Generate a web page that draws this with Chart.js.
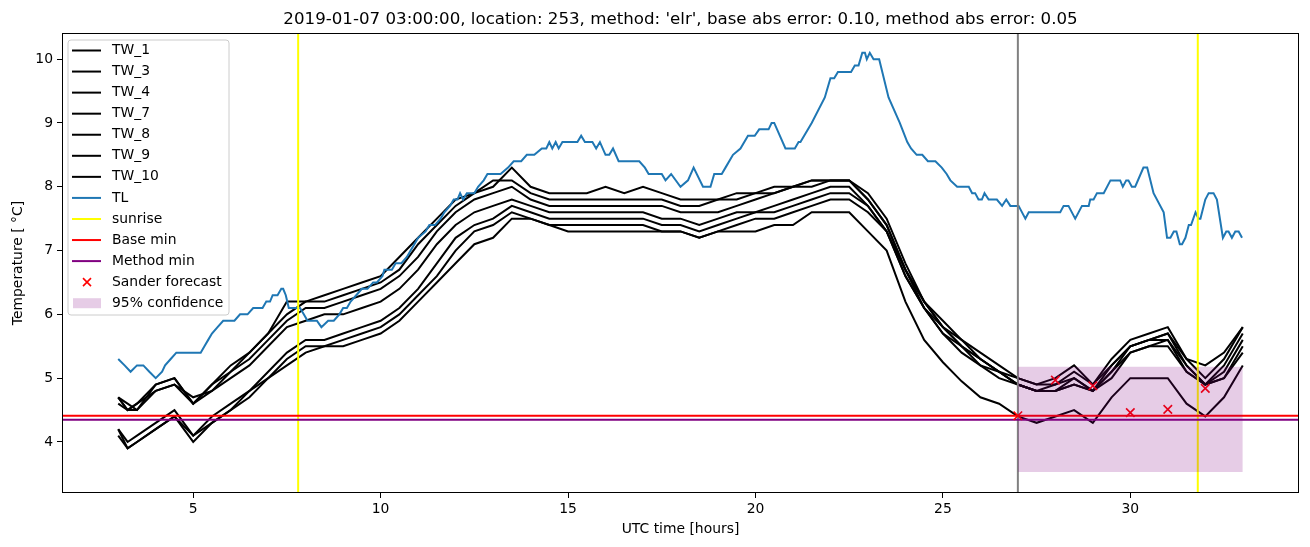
<!DOCTYPE html>
<html><head><meta charset="utf-8">
<script src="https://cdn.jsdelivr.net/npm/chart.js@4.4.1/dist/chart.umd.min.js"></script>
<style>html,body{margin:0;padding:0;background:#fff;overflow:hidden}canvas{display:block}</style>
</head><body>
<canvas id="c" width="1310" height="547"></canvas>
<script>
// ---------------- DATA ----------------
const hours = [3,3.25,3.5,4,4.5,5,5.5,6,6.5,7,7.5,8,8.5,9,9.5,10,10.5,11,11.5,12,12.5,13,13.5,14,14.5,15,15.5,16,16.5,17,17.5,18,18.5,19,19.5,20,20.5,21,21.5,22,22.5,23,23.5,24,24.5,25,25.5,26,26.5,27,27.5,28,28.5,29,29.5,30,30.5,31,31.5,32,32.5,33];
const TW_1 = [4.7,4.5,4.6,4.9,5.0,4.6,4.9,5.2,5.4,5.7,6.2, 6.2,6.3,6.4,6.5,6.6,6.9,7.2,7.5,7.8,7.9, 8.0,8.3,8.0,7.9,7.9,7.9,8.0,7.9,8.0,7.9, 7.8,7.8,7.8,7.9,7.9,7.9,8.0,8.1,8.1,8.1, 7.9,7.5,6.8,6.2,5.9,5.6,5.4,5.2,5.0,4.9, 5.0,5.2,4.9,5.3,5.6,5.7,5.8,5.3,5.2,5.4, 5.8];
const TW_3 = [4.7,4.5,4.5,4.9,5.0,4.6,4.9,5.1,5.4,5.7,6.0, 6.2,6.2,6.3,6.4,6.5,6.7,7.1,7.4,7.7,7.9, 8.1,8.1,7.9,7.8,7.8,7.8,7.8,7.8,7.8,7.8, 7.7,7.7,7.8,7.8,7.9,8.0,8.0,8.1,8.1,8.1, 7.8,7.4,6.7,6.2,5.8,5.6,5.3,5.1,5.0,4.9, 4.9,5.1,4.9,5.2,5.5,5.6,5.7,5.3,5.0,5.3, 5.8];
const TW_4 = [4.6,4.5,4.6,4.8,4.9,4.7,4.8,5.1,5.3,5.6,5.9, 6.1,6.1,6.2,6.3,6.4,6.6,6.9,7.3,7.6,7.8, 7.9,8.0,7.8,7.7,7.7,7.7,7.7,7.7,7.7,7.7, 7.6,7.6,7.6,7.7,7.8,7.9,8.0,8.0,8.1,8.1, 7.8,7.4,6.7,6.2,5.8,5.5,5.3,5.1,4.9,4.8, 4.9,5.0,4.8,5.2,5.5,5.6,5.7,5.2,4.9,5.2, 5.7];
const TW_7 = [4.7,4.6,4.5,4.8,4.9,4.6,4.8,5.0,5.2,5.5,5.8, 5.9,6.0,6.0,6.1,6.2,6.4,6.7,7.1,7.4,7.6, 7.7,7.8,7.7,7.6,7.6,7.6,7.6,7.6,7.6,7.5, 7.5,7.4,7.5,7.6,7.6,7.7,7.8,7.9,8.0,8.0, 7.7,7.3,6.7,6.1,5.8,5.5,5.3,5.1,4.9,4.8, 4.8,5.0,4.8,5.1,5.5,5.6,5.6,5.2,4.9,5.1, 5.6];
const TW_8 = [4.2,3.9,4.0,4.2,4.4,4.1,4.4,4.6,4.8,5.1,5.4, 5.6,5.6,5.7,5.8,5.9,6.1,6.4,6.8,7.2,7.4, 7.5,7.7,7.6,7.5,7.5,7.5,7.5,7.5,7.5,7.4, 7.4,7.3,7.4,7.5,7.6,7.6,7.7,7.8,7.9,7.9, 7.7,7.3,6.6,6.1,5.7,5.5,5.2,5.1,4.9,4.8, 4.8,4.9,4.8,5.1,5.4,5.5,5.6,5.1,4.9,5.0, 5.5];
const TW_9 = [4.1,3.9,4.0,4.2,4.4,4.0,4.3,4.5,4.8,5.0,5.3, 5.5,5.5,5.6,5.7,5.8,6.0,6.3,6.6,7.0,7.3, 7.4,7.6,7.5,7.4,7.4,7.4,7.4,7.4,7.4,7.3, 7.3,7.2,7.3,7.4,7.5,7.5,7.6,7.7,7.8,7.8, 7.6,7.3,6.6,6.1,5.7,5.4,5.2,5.0,4.9,4.8, 4.8,4.9,4.8,5.0,5.4,5.5,5.5,5.1,4.9,5.0, 5.4];
const TW_10 = [4.2,4.0,4.1,4.3,4.5,4.1,4.3,4.5,4.7,5.0,5.2, 5.4,5.5,5.5,5.6,5.7,5.9,6.2,6.5,6.8,7.1, 7.2,7.5,7.5,7.4,7.3,7.3,7.3,7.3,7.3,7.3, 7.3,7.2,7.3,7.3,7.3,7.4,7.4,7.6,7.6,7.6, 7.3,7.0,6.2,5.6,5.25,4.95,4.7,4.6,4.4,4.3, 4.4,4.5,4.3,4.7,5.0,5.0,5.0,4.6,4.4,4.7, 5.2];

const tlHours = [3.0,3.17,3.33,3.5,3.67,3.83,4.0,4.17,4.25,4.4,4.55,5.2,5.3,5.4,5.5,5.65,5.8,6.1,6.25,6.45,6.6,6.85,6.95,7.05,7.12,7.25,7.35,7.4,7.47,7.55,7.65,7.85,7.95,8.05,8.3,8.42,8.6,8.75,8.9,9.0,9.1,9.2,9.35,9.5,9.65,9.8,9.9,10.05,10.1,10.3,10.4,10.55,10.7,10.8,10.9,11.0,11.2,11.3,11.45,11.6,11.7,11.85,11.95,12.05,12.12,12.2,12.3,12.5,12.6,12.75,12.85,13.2,13.4,13.55,13.75,13.9,14.1,14.3,14.42,14.5,14.58,14.67,14.75,14.85,15.25,15.35,15.45,15.65,15.75,15.85,16.0,16.1,16.2,16.35,16.9,17.05,17.15,17.5,17.6,17.75,18.0,18.2,18.35,18.6,18.8,18.9,19.1,19.2,19.4,19.6,19.8,19.98,20.1,20.35,20.43,20.5,20.8,21.05,21.15,21.2,21.5,21.85,21.9,22.0,22.1,22.2,22.55,22.65,22.75,22.85,22.92,22.97,23.05,23.15,23.3,23.55,23.85,24.05,24.15,24.3,24.45,24.6,24.8,24.97,25.1,25.2,25.38,25.69,25.78,25.86,25.95,26.04,26.11,26.22,26.44,26.58,26.69,26.8,27.02,27.2,27.29,28.13,28.22,28.35,28.53,28.71,28.89,28.93,29.02,29.11,29.29,29.47,29.73,29.8,29.89,29.95,30.04,30.13,30.35,30.45,30.62,30.89,30.98,31.07,31.16,31.23,31.32,31.38,31.47,31.56,31.62,31.74,31.82,31.87,32.0,32.09,32.22,32.31,32.47,32.56,32.62,32.71,32.8,32.89,32.98];
const TL = [5.3,5.2,5.1,5.2,5.2,5.1,5.0,5.1,5.2,5.3,5.4,5.4,5.5,5.6,5.7,5.8,5.9,5.9,6.0,6.0,6.1,6.1,6.2,6.2,6.3,6.3,6.4,6.4,6.3,6.1,6.1,6.1,6.0,5.9,5.9,5.8,5.9,5.9,6.0,6.1,6.1,6.2,6.3,6.4,6.4,6.5,6.5,6.6,6.7,6.7,6.8,6.8,6.9,7.0,7.1,7.2,7.3,7.4,7.4,7.5,7.6,7.7,7.8,7.8,7.9,7.8,7.9,7.9,8.0,8.1,8.2,8.2,8.3,8.4,8.4,8.5,8.5,8.6,8.6,8.7,8.6,8.7,8.6,8.7,8.7,8.8,8.7,8.7,8.6,8.7,8.5,8.5,8.6,8.4,8.4,8.3,8.2,8.2,8.1,8.2,8.0,8.1,8.3,8.0,8.0,8.2,8.2,8.3,8.5,8.6,8.8,8.8,8.9,8.9,9.0,9.0,8.6,8.6,8.7,8.7,9.0,9.4,9.5,9.7,9.7,9.8,9.8,9.9,9.9,10.1,10.1,10.0,10.1,10.0,10.0,9.4,9.0,8.7,8.6,8.5,8.5,8.4,8.4,8.3,8.2,8.1,8.0,8.0,7.9,7.9,7.8,7.8,7.9,7.8,7.8,7.7,7.8,7.7,7.7,7.5,7.6,7.6,7.7,7.7,7.5,7.7,7.7,7.8,7.8,7.9,7.9,8.1,8.1,8.0,8.1,8.1,8.0,8.0,8.3,8.3,7.9,7.6,7.2,7.2,7.3,7.3,7.1,7.1,7.2,7.4,7.4,7.6,7.5,7.5,7.8,7.9,7.9,7.8,7.2,7.3,7.3,7.2,7.3,7.3,7.2];

const sunriseHours = [7.8, 31.8];
const nowHour = 27.0;
const baseMin = 4.41;
const methodMin = 4.35;
const sanderHours = [27, 28, 29, 30, 31, 32];
const sanderValues = [4.41, 4.97, 4.88, 4.46, 4.51, 4.84];
const confHours = [27.0, 33.0];
const confLow = 3.53;
const confHigh = 5.18;

const xTicks = [5, 10, 15, 20, 25, 30];
const yTicks = [4, 5, 6, 7, 8, 9, 10];
const X_MIN = 1.5, X_MAX = 34.5, Y_MIN = 3.2, Y_MAX = 10.41;

const twNames = ['TW_1','TW_3','TW_4','TW_7','TW_8','TW_9','TW_10'];
const twSeries = [TW_1, TW_3, TW_4, TW_7, TW_8, TW_9, TW_10];
const titleText = "2019-01-07 03:00:00, location: 253, method: 'elr', base abs error: 0.10, method abs error: 0.05";

// ---------------- CHART ----------------
const FONT = "'DejaVu Sans', 'Liberation Sans', sans-serif";
Chart.defaults.font.family = FONT;
Chart.defaults.color = '#000';

const datasets = [];
let ord = 1000;
twSeries.forEach((s, k) => {
  datasets.push({label: twNames[k], data: hours.map((h, i) => ({x: h, y: s[i]})),
    borderColor: '#000', borderWidth: 2, pointRadius: 0, fill: false, tension: 0, order: ord--});
});
datasets.push({label: 'TL', data: tlHours.map((h, i) => ({x: h, y: TL[i]})),
  borderColor: '#1f77b4', borderWidth: 2, pointRadius: 0, fill: false, tension: 0, order: ord--});
sunriseHours.forEach(h => datasets.push({label: 'sunrise', data: [{x: h, y: Y_MIN}, {x: h, y: Y_MAX}],
  borderColor: '#ffff00', borderWidth: 2, pointRadius: 0, fill: false, order: ord--}));
datasets.push({label: 'now', data: [{x: nowHour, y: Y_MIN}, {x: nowHour, y: Y_MAX}],
  borderColor: '#808080', borderWidth: 2, pointRadius: 0, fill: false, order: ord--});
datasets.push({label: 'Base min', data: [{x: X_MIN, y: baseMin}, {x: X_MAX, y: baseMin}],
  borderColor: '#ff0000', borderWidth: 2, pointRadius: 0, fill: false, order: ord--});
datasets.push({label: 'Method min', data: [{x: X_MIN, y: methodMin}, {x: X_MAX, y: methodMin}],
  borderColor: '#800080', borderWidth: 2, pointRadius: 0, fill: false, order: ord--});
datasets.push({label: 'Sander forecast', data: sanderHours.map((h, i) => ({x: h, y: sanderValues[i]})),
  showLine: false, pointStyle: 'crossRot', pointRadius: 6, pointBorderWidth: 1.6,
  pointBorderColor: '#ff0000', pointBackgroundColor: '#ff0000', borderColor: '#ff0000', order: ord--});
datasets.push({label: '95% confidence', data: confHours.map(h => ({x: h, y: confHigh})),
  borderWidth: 0, borderColor: 'rgba(0,0,0,0)', pointRadius: 0, backgroundColor: 'rgba(128,0,128,0.2)',
  fill: {value: confLow}, order: ord--});

const legendItems = [
  ...twNames.map(n => ({label: n, kind: 'line', color: '#000'})),
  {label: 'TL', kind: 'line', color: '#1f77b4'},
  {label: 'sunrise', kind: 'line', color: '#ffff00'},
  {label: 'Base min', kind: 'line', color: '#ff0000'},
  {label: 'Method min', kind: 'line', color: '#800080'},
  {label: 'Sander forecast', kind: 'marker', color: '#ff0000'},
  {label: '95% confidence', kind: 'patch', color: 'rgba(128,0,128,0.2)'}
];

const decor = {
  id: 'decor',
  afterDatasetsDraw(chart) {
    const {ctx, chartArea: a} = chart;
    ctx.save();
    ctx.strokeStyle = '#000'; ctx.lineWidth = 1;
    ctx.strokeRect(Math.round(a.left) + 0.5, Math.round(a.top) + 0.5, Math.round(a.right - a.left) - 1, Math.round(a.bottom - a.top) - 1);
    ctx.restore();
  },
  afterDraw(chart) {
    const {ctx, chartArea: a} = chart;
    ctx.save();
    ctx.fillStyle = '#000';
    ctx.font = '16.67px ' + FONT;
    ctx.textAlign = 'center'; ctx.textBaseline = 'alphabetic';
    ctx.fillText(titleText, (a.left + a.right) / 2, 24);
    ctx.font = '13.9px ' + FONT;
    ctx.textBaseline = 'middle';
    ctx.fillText('UTC time [hours]', (a.left + a.right) / 2, 529);
    ctx.save();
    ctx.translate(18, (a.top + a.bottom) / 2);
    ctx.rotate(-Math.PI / 2);
    ctx.fillText('Temperature [ \u00B0C]', 0, 0);
    ctx.restore();
    const lx = 68, ly = 40, lw = 161, lh = 275, r = 3;
    ctx.beginPath();
    ctx.moveTo(lx + r, ly); ctx.lineTo(lx + lw - r, ly); ctx.quadraticCurveTo(lx + lw, ly, lx + lw, ly + r);
    ctx.lineTo(lx + lw, ly + lh - r); ctx.quadraticCurveTo(lx + lw, ly + lh, lx + lw - r, ly + lh);
    ctx.lineTo(lx + r, ly + lh); ctx.quadraticCurveTo(lx, ly + lh, lx, ly + lh - r);
    ctx.lineTo(lx, ly + r); ctx.quadraticCurveTo(lx, ly, lx + r, ly); ctx.closePath();
    ctx.fillStyle = 'rgba(255,255,255,0.8)'; ctx.fill();
    ctx.strokeStyle = '#cccccc'; ctx.lineWidth = 1; ctx.stroke();
    ctx.font = '13.9px ' + FONT; ctx.textAlign = 'left'; ctx.textBaseline = 'middle';
    legendItems.forEach((it, i) => {
      const y = 50.5 + i * 21.06;
      if (it.kind === 'line') {
        ctx.strokeStyle = it.color; ctx.lineWidth = 2;
        ctx.beginPath(); ctx.moveTo(72, y); ctx.lineTo(101, y); ctx.stroke();
      } else if (it.kind === 'marker') {
        ctx.strokeStyle = it.color; ctx.lineWidth = 1.6;
        ctx.beginPath(); ctx.moveTo(83, y - 4); ctx.lineTo(91, y + 4); ctx.moveTo(91, y - 4); ctx.lineTo(83, y + 4); ctx.stroke();
      } else {
        ctx.fillStyle = it.color; ctx.fillRect(73, y - 5, 28, 10);
      }
      ctx.fillStyle = '#000';
      ctx.fillText(it.label, 112, y);
    });
    ctx.restore();
  }
};

const tickFont = {size: 13.9, family: FONT};
new Chart(document.getElementById('c'), {
  type: 'line',
  data: {datasets},
  options: {
    responsive: false, animation: false, devicePixelRatio: 1,
    layout: {padding: {top: 33, right: 11, bottom: 0, left: 0}},
    plugins: {legend: {display: false}, title: {display: false}, tooltip: {enabled: false}},
    scales: {
      x: {type: 'linear', min: X_MIN, max: X_MAX,
        afterBuildTicks: s => { s.ticks = xTicks.map(v => ({value: v})); },
        afterFit: s => { s.height = 54; },
        ticks: {font: tickFont, color: '#000', padding: 3, maxRotation: 0, autoSkip: false, callback: v => String(v)},
        grid: {display: true, drawOnChartArea: false, drawTicks: true, tickLength: 5, color: '#000', lineWidth: 1},
        border: {display: false}},
      y: {type: 'linear', min: Y_MIN, max: Y_MAX,
        afterBuildTicks: s => { s.ticks = yTicks.map(v => ({value: v})); },
        afterFit: s => { s.width = 62; },
        ticks: {font: tickFont, color: '#000', padding: 4, autoSkip: false, callback: v => String(v)},
        grid: {display: true, drawOnChartArea: false, drawTicks: true, tickLength: 5, color: '#000', lineWidth: 1},
        border: {display: false}}
    }
  },
  plugins: [decor]
});
</script>
</body></html>
